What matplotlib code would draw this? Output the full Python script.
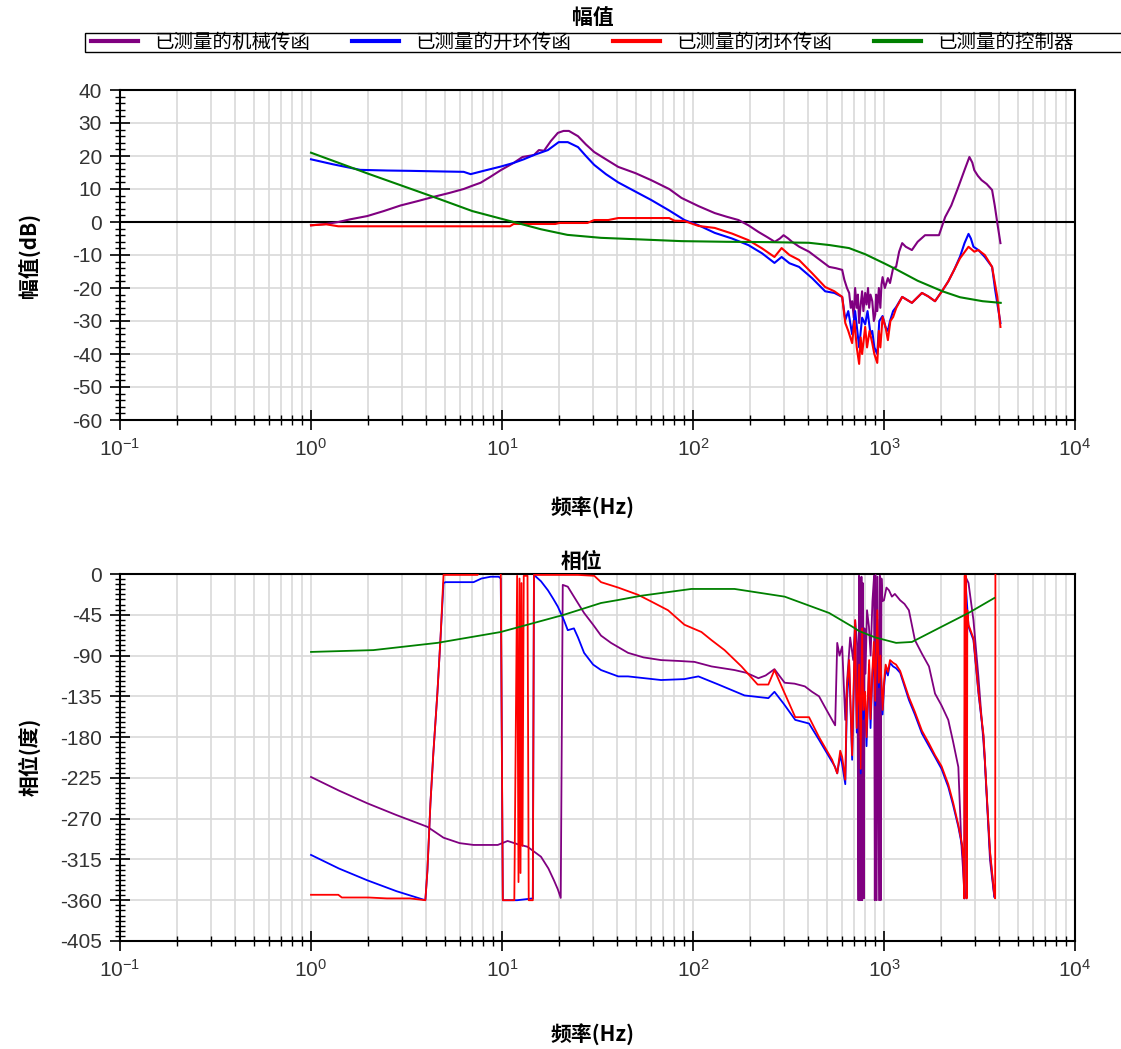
import numpy as np
import matplotlib
matplotlib.use("Agg")
import matplotlib.pyplot as plt
from matplotlib.ticker import LogLocator, MultipleLocator, NullFormatter
from matplotlib.lines import Line2D
from matplotlib.patches import Rectangle

plt.rcParams['font.family'] = ['Liberation Sans', 'Noto Sans CJK SC', 'DejaVu Sans']
plt.rcParams['mathtext.default'] = 'regular'
plt.rcParams['axes.unicode_minus'] = False

# ---- data ----
labels = ["已测量的机械传函", "已测量的开环传函", "已测量的闭环传函", "已测量的控制器"]
colors = ["#800080", "#0000ff", "#ff0000", "#008000"]

# magnitude, dB
mech_mag_f = [1.0, 1.2, 1.39, 1.6, 1.97, 2.4, 2.94, 3.6, 4.37, 5.3, 6.3, 7.0, 7.73, 8.7, 9.85, 11.5, 12.8, 14.7,
              15.6, 16.6, 18.0, 19.6, 21.0, 22.4, 25.0, 27.5, 30.4, 35, 40.6, 50, 60.3, 75, 87, 107, 130, 150,
              173, 195, 220, 245, 268, 285, 298, 315, 330, 360, 405, 450, 516, 560, 604, 620, 640, 657, 670,
              681, 695, 706, 720, 730, 741, 755, 768, 780, 797, 810, 825, 836, 850, 868, 885, 900, 910, 922,
              940, 957, 970, 983, 1010, 1048, 1075, 1116, 1157, 1200, 1245, 1300, 1400, 1500, 1640, 1800,
              1940, 2090, 2250, 2450, 2650, 2800, 2900, 2970, 3100, 3240, 3450, 3680, 3800, 3920, 4070]
mech_mag = [-1.0, -0.6, 0.0, 0.8, 1.8, 3.3, 5.0, 6.3, 7.6, 8.8, 10.0, 11.0, 11.9, 13.7, 15.7, 17.9, 19.7, 20.3,
            21.8, 21.6, 24.5, 27.0, 27.6, 27.6, 26.0, 23.5, 21.2, 19.0, 16.7, 14.8, 12.7, 10.0, 7.3, 4.8, 2.7, 1.6,
            0.6, -1.0, -3.0, -4.6, -6.0, -5.0, -4.0, -5.0, -6.0, -7.5, -9.0, -11.0, -13.6, -14.0, -14.5, -17.5, -20.0,
            -21.5, -26, -24, -29, -20, -26, -22, -30.6, -25, -21, -27, -21.5, -25, -20, -26, -22, -24, -30, -28,
            -22, -27, -20, -26, -19, -16.7, -20, -17, -18.5, -14, -13.6, -9, -6.4, -7.5, -8.5, -6, -4.0, -4.0,
            -4.0, 1.5, 5, 10.6, 16, 19.7, 18, 15.7, 14, 12.7, 11.5, 9.7, 5, -0.3, -6.4]

open_mag_f = [1.0, 1.3, 1.81, 2.5, 3.31, 5.0, 6.3, 6.85, 8.0, 9.85, 11.5, 13.0, 14.7, 17.4, 19.8, 22.1, 25, 27.5,
              30.4, 35, 40.6, 50, 60.3, 75, 90.2, 107, 130, 160, 195, 230, 267, 291, 320, 359, 420, 492, 550,
              604, 627, 650, 681, 706, 741, 768, 797, 820, 850, 868, 890, 922, 945, 983, 1020, 1048, 1075, 1116,
              1157, 1245, 1400, 1580, 1700, 1850, 2010, 2170, 2330, 2500, 2640, 2770, 2850, 2940, 3120, 3370,
              3680, 3820, 4070]
open_mag = [19.0, 17.5, 15.8, 15.6, 15.5, 15.3, 15.2, 14.5, 15.5, 16.8, 17.9, 19.0, 20.3, 21.8, 24.2, 24.2, 22.7, 20,
            17.3, 14.5, 12.0, 9.2, 6.7, 3.5, 0.6, -1.0, -3.3, -5.0, -7.0, -9.5, -12.4, -10.6, -12.5, -13.6, -17, -21.0,
            -21.5, -22.7, -29.7, -27, -34, -27, -38, -29, -31, -27, -34, -33, -38, -40, -30, -28.5, -32, -33, -30,
            -27, -25.8, -22.7, -24.5, -21.5, -22.5, -24.0, -21.0, -18, -14.5, -10.5, -6.4, -3.6, -5, -7.5, -8.5,
            -10.6, -13.6, -20.6, -30.6]

closed_mag_f = [1.0, 1.2, 1.39, 2, 5, 8, 11.0, 11.5, 15, 19, 20, 28, 30.4, 36, 40.6, 60, 75, 80, 90.2, 107, 130,
                160, 195, 230, 267, 291, 320, 359, 420, 492, 550, 604, 627, 650, 681, 700, 720, 741, 755, 768,
                797, 815, 840, 868, 890, 922, 940, 957, 983, 1020, 1048, 1080, 1116, 1160, 1245, 1400, 1580,
                1700, 1850, 2010, 2170, 2330, 2500, 2770, 2970, 3120, 3370, 3680, 3920, 4070]
closed_mag = [-1.0, -0.7, -1.3, -1.3, -1.3, -1.3, -1.3, -0.6, -0.6, -0.6, -0.3, -0.3, 0.6, 0.6, 1.2, 1.2, 1.2, 0.4,
              0.3, -1.2, -1.8, -3.5, -5.5, -8, -10.6, -7.9, -10, -11.5, -15.5, -19.7, -21, -22.7, -30.6, -33, -36.7,
              -30, -38, -43.0, -35, -40, -31.8, -38, -33, -36.7, -40, -42.7, -33, -38, -28.8, -32, -35.8, -30,
              -28.8, -26, -22.7, -24.5, -21.5, -22.5, -24.0, -21.0, -18, -14.5, -11, -7.5, -9.0, -8.5, -10.0,
              -13.6, -22.7, -31.8]

ctrl_mag_f = [1.0, 2.0, 4.38, 7.0, 11.5, 16, 22, 33, 49, 87, 150, 250, 405, 520, 656, 800, 1000, 1146, 1500,
              2024, 2500, 3283, 4083]
ctrl_mag = [21.0, 14.6, 7.6, 3.3, 0.0, -2.2, -3.9, -4.8, -5.2, -5.8, -6.0, -6.1, -6.3, -7.0, -7.9, -9.8, -12.5,
            -14.2, -17.8, -21.0, -22.8, -24.0, -24.5]

# phase, degrees
mech_ph_f = [1.0, 1.4, 1.97, 2.8, 4.07, 4.94, 6.0, 7.1, 8.5, 9.5, 10.7, 12.0, 13.6, 16.0, 17.5, 18.7, 19.6, 20.3,
             20.8, 22.1, 23.8, 26.9, 30, 33, 37.2, 45.7, 55, 68, 85, 101.8, 125, 165, 190, 220, 240, 267, 285,
             302, 340, 385, 420, 457, 500, 555, 569, 585, 604, 627, 640, 665, 690, 707, 725, 735, 740, 745,
             750, 755, 762, 768, 775, 784, 790, 800, 815, 834, 851, 870, 887, 895, 904, 915, 925, 942, 952,
             961, 970, 980, 1000, 1030, 1062, 1100, 1140, 1215, 1280, 1350, 1452, 1580, 1720, 1850, 2000,
             2170, 2300, 2450, 2540, 2600, 2640, 2660, 2770, 2940, 3120, 3370, 3590, 3780]
mech_ph = [-224, -239, -253, -266, -279, -291, -297, -299, -299, -299, -294.6, -298, -301, -312, -325, -338, -348,
           -357.5, -12, -14, -25, -43, -56, -68, -76, -87, -92, -95, -96, -97, -102, -106, -109, -115, -112, -105,
           -113, -120, -121, -124, -130, -135, -150, -167, -76, -90, -80, -161, -120, -70, -95, -51, -80, -360,
           -2, -360, -5, -360, -3, -360, -10, -358, -60, -110, -40, -58, -90, -30, -2, -360, -1, -360, -3, -360,
           -2, -360, -5, -30, -29, -15, -18, -25, -22, -29, -33, -40, -73, -88, -102, -132, -145, -161, -185,
           -213, -297, -330, -356, -2, -10, -51, -113, -205, -316, -356]

open_ph_f = [1.0, 1.4, 1.97, 2.8, 3.97, 4.07, 4.22, 4.37, 4.59, 4.77, 4.94, 5.06, 6.0, 7.1, 7.8, 8.73, 9.62, 9.85,
             10.1, 12.0, 14.5, 14.7, 16, 17.4, 18.5, 19.6, 21.1, 22.1, 23.8, 25, 26.9, 30, 33, 40.6, 45.7, 68,
             90, 106.7, 136, 186, 248, 267, 298, 343, 405, 457, 555, 569, 590, 604, 627, 640, 657, 681, 706,
             720, 741, 755, 768, 780, 797, 810, 836, 850, 868, 885, 900, 922, 940, 957, 983, 1000, 1020, 1048,
             1075, 1116, 1157, 1215, 1350, 1450, 1580, 1720, 1850, 2000, 2170, 2300, 2450, 2560, 2600, 2640,
             2660, 2770, 2940, 3120, 3320, 3460, 3590, 3780]
open_ph = [-310, -325, -338, -350, -360, -327, -253, -198, -131, -69, -10, -9, -9, -9, -5, -3, -3, -5,
           -360, -360, -358, -1, -8, -18, -27, -36, -51, -62, -60, -70, -87, -100, -106, -113, -113, -117,
           -116, -113, -122, -134, -137, -130, -143, -161, -165, -183, -213, -220, -200, -210, -232, -140, -100,
           -205, -60, -175, -110, -220, -70, -160, -140, -190, -100, -170, -115, -85, -145, -50, -125, -95,
           -155, -125, -105, -112, -98, -102, -104, -109, -139, -155, -176, -190, -202, -215, -235, -255,
           -279, -300, -316, -358, -2, -58, -73, -131, -180, -249, -308, -356]

closed_ph_f = [1.0, 1.39, 1.45, 2.0, 2.5, 3.3, 3.97, 4.07, 4.22, 4.37, 4.59, 4.77, 4.94, 7.45, 7.6, 9.85, 10.1,
               11.6, 12.0, 12.2, 12.35, 12.5, 12.65, 12.8, 13.0, 13.6, 13.8, 14.5, 14.7, 20, 25, 30.4, 33, 40.6,
               51.6, 60, 74, 90.2, 110.7, 125, 146.3, 179.4, 218, 248, 267, 291, 343, 405, 457, 535, 569, 590,
               604, 627, 640, 657, 681, 706, 720, 741, 755, 768, 780, 797, 810, 836, 850, 868, 885, 900, 922,
               940, 957, 983, 1000, 1020, 1048, 1075, 1116, 1157, 1215, 1350, 1450, 1580, 1720, 1850, 2000,
               2170, 2300, 2450, 2560, 2600, 2630, 2640, 2690, 2700, 2715, 2730, 2770, 2940, 3120, 3320, 3460,
               3590, 3780, 3820, 3830]
closed_ph = [-354, -354, -357, -357, -358, -358, -360, -327, -253, -198, -131, -69, -1, -1, 3, 3, -360,
             -360, -2, -340, -5, -330, -10, -300, -2, -2, -360, -360, -1, -1, -1, -2, -9, -15,
             -23, -30, -40, -56, -64, -73, -84, -102, -122, -122, -106, -124, -158, -158, -180, -205, -220, -195,
             -202, -227, -125, -95, -200, -51, -170, -100, -215, -60, -150, -130, -180, -95, -160, -110, -75,
             -140, -40, -120, -90, -150, -120, -100, -108, -95, -98, -100, -107, -136, -152, -173, -187, -200,
             -212, -232, -252, -277, -298, -314, -358, -2, -2, -358, -358, -40, -56, -71, -129, -178, -247,
             -306, -354, -358, 0]

ctrl_ph_f = [1.0, 2.12, 4.59, 9.85, 21.1, 33, 40.6, 53.5, 98, 165, 302, 516, 681, 741, 900, 1157, 1400, 2010,
             2770, 3780]
ctrl_ph = [-86, -84, -76, -64, -45, -32, -28.7, -24, -16.5, -16.5, -25, -43, -58, -63, -70, -76, -75, -58,
           -43, -26.5]

# ---- figure ----
W, H = 1121, 1049
fig = plt.figure(figsize=(W / 100, H / 100), dpi=100)
ax1 = fig.add_axes([120 / W, 1 - 420 / H, 955 / W, 330 / H])
ax2 = fig.add_axes([120 / W, 1 - 941 / H, 955 / W, 367 / H])

grid_c = "#d9d9d9"
tick_fs = 15


def style(ax, ylo, yhi, ymaj, ymin):
    ax.set_xscale("log")
    ax.set_xlim(0.1, 1e4)
    ax.set_ylim(ylo, yhi)
    ax.xaxis.set_major_locator(LogLocator(base=10, numticks=10))
    ax.xaxis.set_minor_locator(LogLocator(base=10, subs=np.arange(2, 10), numticks=100))
    ax.xaxis.set_minor_formatter(NullFormatter())
    ax.yaxis.set_major_locator(MultipleLocator(ymaj))
    ax.yaxis.set_minor_locator(MultipleLocator(ymin))
    ax.grid(True, which="major", color=grid_c, lw=1.2, zorder=0)
    ax.grid(True, which="minor", axis="x", color=grid_c, lw=1.2, zorder=0)
    ax.set_axisbelow(True)
    for s in ax.spines.values():
        s.set_linewidth(1.5)
    ax.tick_params(axis="both", which="major", direction="inout", length=14, width=1.2,
                   labelsize=tick_fs, labelcolor="#333333", pad=6)
    ax.tick_params(axis="both", which="minor", direction="inout", length=7, width=1.0)
    # inner ticks on top and right
    tx = ax.twiny()
    tx.set_xscale("log")
    tx.set_xlim(0.1, 1e4)
    tx.xaxis.set_major_locator(LogLocator(base=10, numticks=10))
    tx.xaxis.set_minor_locator(LogLocator(base=10, subs=np.arange(2, 10), numticks=100))
    tx.tick_params(axis="x", which="major", direction="in", length=7, width=1.2, labeltop=False)
    tx.tick_params(axis="x", which="minor", direction="in", length=4.5, width=1.0)
    ty = ax.twinx()
    ty.set_ylim(ylo, yhi)
    ty.yaxis.set_major_locator(MultipleLocator(ymaj))
    ty.yaxis.set_minor_locator(MultipleLocator(ymin))
    ty.tick_params(axis="y", which="major", direction="in", length=7, width=1.2, labelright=False)
    ty.tick_params(axis="y", which="minor", direction="in", length=4.5, width=1.0)
    for t in (tx, ty):
        t.set_zorder(ax.get_zorder() - 1)
        for s in t.spines.values():
            s.set_visible(False)
    ax.patch.set_visible(True)


style(ax1, -60, 40, 10, 2)
style(ax2, -405, 0, 45, 45 / 8)

ax1.axhline(0, color="black", lw=1.5, zorder=2)

mag_f = [mech_mag_f, open_mag_f, closed_mag_f, ctrl_mag_f]
mag_v = [mech_mag, open_mag, closed_mag, ctrl_mag]
ph_f = [mech_ph_f, open_ph_f, closed_ph_f, ctrl_ph_f]
ph_v = [mech_ph, open_ph, closed_ph, ctrl_ph]

for f, v, c, lab in zip(mag_f, mag_v, colors, labels):
    ax1.plot(f, v, color=c, lw=1.5, label=lab, zorder=3)
for f, v, c in zip(ph_f, ph_v, colors):
    ax2.plot(f, v, color=c, lw=1.3, zorder=3)

cjk = ["Noto Sans CJK SC", "DejaVu Sans"]
fig.text(593 / W, 1 - 18 / H, "幅值", ha="center", va="center", fontsize=15, fontweight="bold", family=cjk)
fig.text(582 / W, 1 - 561 / H, "相位", ha="center", va="center", fontsize=15, fontweight="bold", family=cjk)
fig.text(593 / W, 1 - 508 / H, "频率(Hz)", ha="center", va="center", fontsize=15, fontweight="bold", family=cjk)
fig.text(593 / W, 1 - 1035 / H, "频率(Hz)", ha="center", va="center", fontsize=15, fontweight="bold", family=cjk)
fig.text(30 / W, 1 - 255 / H, "幅值(dB)", ha="center", va="center", rotation=90, fontsize=15,
         fontweight="bold", family=cjk)
fig.text(30 / W, 1 - 757 / H, "相位(度)", ha="center", va="center", rotation=90, fontsize=15,
         fontweight="bold", family=cjk)

# legend: box runs past the right edge, as in the original
fig.patches.append(Rectangle((85 / W, 1 - 52 / H), 1045 / W, 19 / H, transform=fig.transFigure,
                             facecolor="white", edgecolor="black", lw=1.0, zorder=1))
leg_handles = [Line2D([], [], color=c, lw=3) for c in colors]
leg = fig.legend(leg_handles, labels, loc="center left", ncol=4,
                 bbox_to_anchor=(91 / W, 1 - 42.5 / H), borderaxespad=0, borderpad=0,
                 frameon=False, handlelength=2.4, handletextpad=0.85, columnspacing=2.15,
                 prop={"family": cjk, "size": 14})
leg.set_zorder(2)

fig.savefig("out.png", dpi=100)
